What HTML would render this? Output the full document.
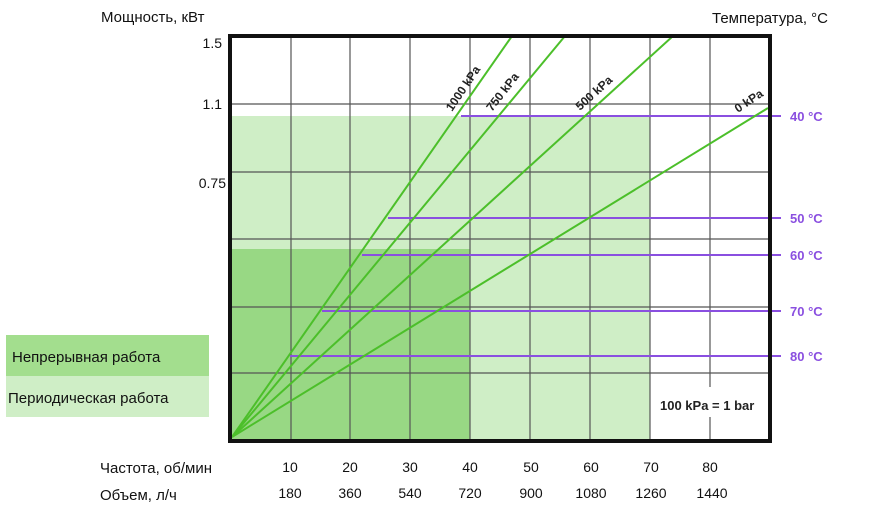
<!DOCTYPE html>
<html><head><meta charset="utf-8"><style>
body{margin:0;background:#fff;width:882px;height:509px;overflow:hidden}
svg text{font-family:"Liberation Sans",sans-serif}
</style></head><body>
<svg width="882" height="509" xmlns="http://www.w3.org/2000/svg">
<rect x="6" y="335" width="203" height="41" fill="#a3de8e"/>
<rect x="6" y="376" width="203" height="41" fill="#cfeec6"/>
<text x="12" y="362" font-size="15" fill="#111">Непрерывная работа</text>
<text x="8" y="403" font-size="15" fill="#111">Периодическая работа</text>
<text x="101" y="22" font-size="15" fill="#111">Мощность, кВт</text>
<text x="712" y="23" font-size="15" fill="#111">Температура, °C</text>
<rect x="232" y="116" width="418" height="324" fill="#cfeec6"/>
<rect x="232" y="249" width="238" height="191" fill="#98d884"/>
<g stroke="#555" stroke-width="1.2">
<line x1="291" y1="36" x2="291" y2="440"/><line x1="350" y1="36" x2="350" y2="440"/>
<line x1="410" y1="36" x2="410" y2="440"/><line x1="470" y1="36" x2="470" y2="440"/>
<line x1="530" y1="36" x2="530" y2="440"/><line x1="590" y1="36" x2="590" y2="440"/>
<line x1="650" y1="36" x2="650" y2="440"/><line x1="710" y1="36" x2="710" y2="387"/><line x1="710" y1="417" x2="710" y2="440"/>
<line x1="232" y1="104" x2="770" y2="104"/><line x1="232" y1="172" x2="770" y2="172"/>
<line x1="232" y1="239" x2="770" y2="239"/><line x1="232" y1="307" x2="770" y2="307"/>
<line x1="232" y1="373" x2="770" y2="373"/>
</g>
<g stroke="#8a4fe0" stroke-width="2">
<line x1="461" y1="116" x2="781" y2="116"/><line x1="388" y1="218" x2="781" y2="218"/>
<line x1="362" y1="255" x2="781" y2="255"/><line x1="322" y1="311" x2="781" y2="311"/>
<line x1="290" y1="356" x2="781" y2="356"/>
</g>
<g stroke="#4cbf2a" stroke-width="2">
<line x1="232" y1="437" x2="512" y2="36"/><line x1="232" y1="437" x2="565" y2="36"/>
<line x1="232" y1="437" x2="673" y2="36"/><line x1="232" y1="437" x2="768" y2="108"/>
</g>
<rect x="230" y="36" width="540" height="405" fill="none" stroke="#111" stroke-width="4"/>
<g font-size="12" font-weight="bold" fill="#222" font-family="Liberation Sans Narrow,Liberation Sans,sans-serif">
<text transform="translate(452,112) rotate(-56)">1000 kPa</text>
<text transform="translate(492,112) rotate(-52)">750 kPa</text>
<text transform="translate(580,111) rotate(-42)">500 kPa</text>
<text transform="translate(738,113) rotate(-34)">0 kPa</text>
<text x="660" y="410" font-size="13">100 kPa = 1 bar</text>
</g>
<g font-size="13" font-weight="bold" fill="#8a4fe0">
<text x="790" y="121">40 °C</text><text x="790" y="223">50 °C</text>
<text x="790" y="260">60 °C</text><text x="790" y="316">70 °C</text>
<text x="790" y="361">80 °C</text>
</g>
<g font-size="14" fill="#111" text-anchor="end">
<text x="222" y="48">1.5</text><text x="222" y="109">1.1</text><text x="226" y="188">0.75</text>
</g>
<text x="100" y="473" font-size="15" fill="#111">Частота, об/мин</text>
<text x="100" y="500" font-size="15" fill="#111">Объем, л/ч</text>
<g font-size="14" fill="#111" text-anchor="middle">
<text x="290" y="472">10</text><text x="350" y="472">20</text><text x="410" y="472">30</text>
<text x="470" y="472">40</text><text x="531" y="472">50</text><text x="591" y="472">60</text>
<text x="651" y="472">70</text><text x="710" y="472">80</text>
<text x="290" y="498">180</text><text x="350" y="498">360</text><text x="410" y="498">540</text>
<text x="470" y="498">720</text><text x="531" y="498">900</text><text x="591" y="498">1080</text>
<text x="651" y="498">1260</text><text x="712" y="498">1440</text>
</g>
</svg>
</body></html>
